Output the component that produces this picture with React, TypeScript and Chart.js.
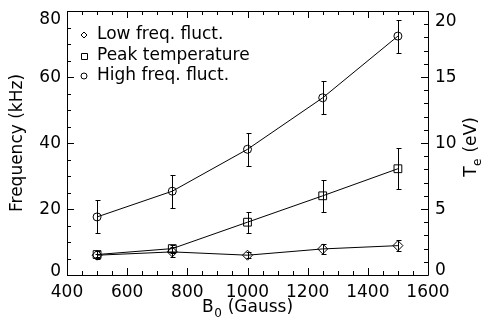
import React, { useEffect, useRef } from 'react';
import { Chart, registerables } from 'chart.js';
Chart.register(...registerables);

// ---- data ----
const bField = [500, 750, 1000, 1250, 1500];
const lowFreq = [6.0, 7.0, 6.0, 7.9, 8.9];
const lowFreqErr = [0.5, 1.4, 0.9, 1.5, 1.6];
const peakTe = [1.55, 2.0, 4.0, 6.0, 8.05];
const peakTeErr = [0.3, 0.3, 0.8, 1.2, 1.55];
const highFreq = [17.6, 25.4, 38.1, 53.7, 72.4];
const highFreqErr = [5, 5, 5, 5, 5];
const seriesLabels = ['Low freq. fluct.', 'Peak temperature', 'High freq. fluct.'];
const xTickValues = [400, 600, 800, 1000, 1200, 1400, 1600];
const freqTickValues = [0, 20, 40, 60, 80];
const teTickValues = [0, 5, 10, 15, 20];
const xTitleParts = ['B', '0', ' (Gauss)'];
const yTitle = 'Frequency (kHz)';
const y2TitleParts = ['T', 'e', ' (eV)'];

const FONT_FAMILY = '"DejaVu Sans", sans-serif';
const FONT_SIZE = 17;
const fontObj = { family: FONT_FAMILY, size: FONT_SIZE };
const fontStr = `${FONT_SIZE}px ${FONT_FAMILY}`;
const subFontStr = `12px ${FONT_FAMILY}`;

const px = (v: number) => Math.round(v) + 0.5;

function drawSubTitle(ctx: any, parts: string[], cx: number, cy: number) {
  ctx.font = fontStr;
  const w0 = ctx.measureText(parts[0]).width;
  const w2 = ctx.measureText(parts[2]).width;
  ctx.font = subFontStr;
  const w1 = ctx.measureText(parts[1]).width;
  const total = w0 + w1 + 1 + w2;
  let x = cx - total / 2;
  ctx.textAlign = 'left';
  ctx.textBaseline = 'middle';
  ctx.font = fontStr;
  ctx.fillText(parts[0], x, cy);
  x += w0 + 0.5;
  ctx.font = subFontStr;
  ctx.fillText(parts[1], x, cy + 6);
  x += w1 + 0.5;
  ctx.font = fontStr;
  ctx.fillText(parts[2], x, cy);
}

const decorPlugin = {
  id: 'decor',
  afterDatasetsDraw(chart: any) {
    const ctx = chart.ctx;
    const { left, right, top, bottom } = chart.chartArea;
    const xs = chart.scales.x;
    const ys = chart.scales.y;
    const y2s = chart.scales.y2;
    ctx.save();
    ctx.strokeStyle = '#000';
    ctx.fillStyle = '#000';
    ctx.lineWidth = 1;

    // error bars
    chart.data.datasets.forEach((ds: any) => {
      const sc = chart.scales[ds.yAxisID];
      ds.data.forEach((p: any, i: number) => {
        const e = ds.errors[i];
        const x = px(xs.getPixelForValue(p.x));
        const yt = Math.round(sc.getPixelForValue(p.y + e)) + 0.5;
        const yb = Math.round(sc.getPixelForValue(p.y - e)) + 0.5;
        ctx.beginPath();
        ctx.moveTo(x, yt); ctx.lineTo(x, yb);
        ctx.moveTo(x - 2, yt); ctx.lineTo(x + 3, yt);
        ctx.moveTo(x - 2, yb); ctx.lineTo(x + 3, yb);
        ctx.stroke();
      });
    });

    // frame
    ctx.beginPath();
    ctx.rect(px(left), px(top), Math.round(right) - Math.round(left), Math.round(bottom) - Math.round(top));
    ctx.stroke();

    // x ticks (bottom & top, inward)
    ctx.beginPath();
    for (let v = xs.min; v <= xs.max + 1e-6; v += 50) {
      const x = px(xs.getPixelForValue(v));
      const len = v % 200 === 0 ? 7 : 4;
      ctx.moveTo(x, Math.round(bottom)); ctx.lineTo(x, Math.round(bottom) - len);
      ctx.moveTo(x, Math.round(top)); ctx.lineTo(x, Math.round(top) + len);
    }
    // left y ticks
    for (let v = ys.min; v <= ys.max + 1e-6; v += 5) {
      const y = px(ys.getPixelForValue(v));
      const len = v % 20 === 0 ? 7 : 4;
      ctx.moveTo(Math.round(left), y); ctx.lineTo(Math.round(left) + len, y);
    }
    // right y ticks
    for (let v = y2s.min; v <= y2s.max + 1e-6; v += 1) {
      const y = px(y2s.getPixelForValue(v));
      const len = v % 5 === 0 ? 7 : 4;
      ctx.moveTo(Math.round(right), y); ctx.lineTo(Math.round(right) - len, y);
    }
    ctx.stroke();

    // y tick labels
    ctx.font = fontStr;
    ctx.textBaseline = 'middle';
    ctx.textAlign = 'right';
    ys.ticks.forEach((t: any) => {
      let y = ys.getPixelForValue(t.value);
      y = Math.min(Math.max(y, top + 7.5), bottom - 4);
      ctx.fillText(String(t.value), left - 6, y + 1);
    });
    ctx.textAlign = 'left';
    y2s.ticks.forEach((t: any) => {
      let y = y2s.getPixelForValue(t.value);
      y = Math.min(Math.max(y, top + 10), bottom - 5.5);
      ctx.fillText(String(t.value), right + 7, y + 1);
    });

    // x axis title with subscript
    drawSubTitle(ctx, xTitleParts, (left + right) / 2, 308);

    // right axis title (reads bottom to top)
    ctx.save();
    ctx.translate(472, (top + bottom) / 2 + 4);
    ctx.rotate(-Math.PI / 2);
    drawSubTitle(ctx, y2TitleParts, 0, 0);
    ctx.restore();

    // legend
    const lx = left + 17;
    const rows = [top + 24, top + 45, top + 65];
    chart.data.datasets.forEach((ds: any, i: number) => {
      const y = rows[i];
      ctx.beginPath();
      if (ds.pointStyle === 'rectRot') {
        ctx.moveTo(lx, y - 3); ctx.lineTo(lx + 3, y); ctx.lineTo(lx, y + 3); ctx.lineTo(lx - 3, y); ctx.closePath();
      } else if (ds.pointStyle === 'rect') {
        ctx.rect(Math.round(lx) - 2.5, Math.round(y) - 2.5, 6, 6);
      } else {
        ctx.arc(lx, y, 3, 0, Math.PI * 2);
      }
      ctx.stroke();
      ctx.font = fontStr;
      ctx.textAlign = 'left';
      ctx.textBaseline = 'middle';
      ctx.fillText(ds.label, lx + 13, y);
    });
    ctx.restore();
  },
};

export default function App() {
  const ref = useRef<HTMLCanvasElement | null>(null);
  useEffect(() => {
    if (!ref.current) return;
    const common = {
      borderColor: '#000',
      borderWidth: 1,
      backgroundColor: 'transparent',
      pointBackgroundColor: 'transparent',
      pointBorderColor: '#000',
      pointBorderWidth: 1,
      tension: 0,
      fill: false,
    };
    const chart = new Chart(ref.current, {
      type: 'line',
      data: {
        datasets: [
          {
            ...common,
            label: seriesLabels[0],
            data: bField.map((x, i) => ({ x, y: lowFreq[i] })),
            yAxisID: 'y',
            pointStyle: 'rectRot',
            pointRadius: 5,
            errors: lowFreqErr,
          } as any,
          {
            ...common,
            label: seriesLabels[1],
            data: bField.map((x, i) => ({ x, y: peakTe[i] })),
            yAxisID: 'y2',
            pointStyle: 'rect',
            pointRadius: 5.5,
            errors: peakTeErr,
          } as any,
          {
            ...common,
            label: seriesLabels[2],
            data: bField.map((x, i) => ({ x, y: highFreq[i] })),
            yAxisID: 'y',
            pointStyle: 'circle',
            pointRadius: 4,
            errors: highFreqErr,
          } as any,
        ],
      },
      options: {
        responsive: false,
        animation: false,
        devicePixelRatio: 1,
        layout: { padding: { top: 11, left: 0, right: 0, bottom: 0 } },
        plugins: { legend: { display: false }, tooltip: { enabled: false } },
        scales: {
          x: {
            type: 'linear',
            min: 400,
            max: 1600,
            afterBuildTicks: (s: any) => { s.ticks = xTickValues.map((v) => ({ value: v })); },
            afterFit: (s: any) => { s.height = 54; },
            ticks: {
              font: fontObj,
              color: '#000',
              padding: 7,
              maxRotation: 0,
              autoSkip: false,
              callback: (v: any) => String(v),
            },
            grid: { display: false, drawTicks: false },
            border: { display: false },
          },
          y: {
            type: 'linear',
            position: 'left',
            min: 0,
            max: 80,
            afterBuildTicks: (s: any) => { s.ticks = freqTickValues.map((v) => ({ value: v })); },
            afterFit: (s: any) => { s.width = 67; },
            ticks: { display: false },
            grid: { display: false, drawTicks: false },
            border: { display: false },
            title: { display: true, text: yTitle, font: fontObj, color: '#000', padding: { top: 7, bottom: 0 } },
          },
          y2: {
            type: 'linear',
            position: 'right',
            min: 0,
            max: 20,
            afterBuildTicks: (s: any) => { s.ticks = teTickValues.map((v) => ({ value: v })); },
            afterFit: (s: any) => { s.width = 64; },
            ticks: { display: false },
            grid: { display: false, drawTicks: false },
            border: { display: false },
          },
        },
      } as any,
      plugins: [decorPlugin],
    });
    return () => chart.destroy();
  }, []);
  return (
    <div style={{ position: 'fixed', left: 0, top: 0, width: 492, height: 329, background: '#fff' }}>
      <canvas ref={ref} width={492} height={329} style={{ display: 'block' }} />
    </div>
  );
}
